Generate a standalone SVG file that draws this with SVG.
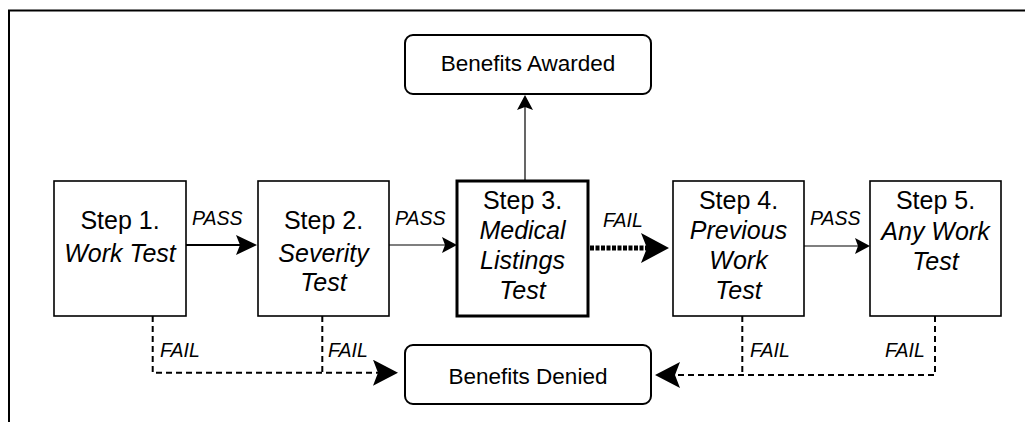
<svg xmlns="http://www.w3.org/2000/svg" width="1025" height="422" viewBox="0 0 1025 422">
<style>
  text { font-family: "Liberation Sans", Arial, Helvetica, sans-serif; fill: #000; }
  .step { font-size: 25px; text-anchor: middle; }
  .it { font-style: italic; }
  .lbl { font-size: 19.5px; font-style: italic; }
  .ben { font-size: 22.5px; text-anchor: middle; }
  .box { fill: #fff; stroke: #000; stroke-width: 1.6; }
  .box3 { fill: #fff; stroke: #000; stroke-width: 3; }
  .rbox { fill: #fff; stroke: #000; stroke-width: 2; }
  .thin { fill: none; stroke: #000; stroke-width: 1.2; }
  .med { fill: none; stroke: #000; stroke-width: 2.2; }
  .dots { fill: none; stroke: #000; stroke-width: 5; stroke-dasharray: 4 1.5; }
  .dash { fill: none; stroke: #000; stroke-width: 2; stroke-dasharray: 6 4; }
</style>
<defs>
  <marker id="mThin" markerUnits="userSpaceOnUse" viewBox="0 0 15 16" markerWidth="15" markerHeight="16" refX="3" refY="8" orient="auto">
    <path d="M0,0 L15,8 L0,16 L3,8 Z" fill="#000"/>
  </marker>
  <marker id="mMed" markerUnits="userSpaceOnUse" viewBox="0 0 21 20" markerWidth="21" markerHeight="20" refX="4" refY="10" orient="auto">
    <path d="M0,0 L21,10 L0,20 L4,10 Z" fill="#000"/>
  </marker>
  <marker id="mBig" markerUnits="userSpaceOnUse" viewBox="0 0 28 30" markerWidth="28" markerHeight="30" refX="6" refY="15" orient="auto">
    <path d="M0,0 L28,15 L0,30 L6,15 Z" fill="#000"/>
  </marker>
  <marker id="mDash" markerUnits="userSpaceOnUse" viewBox="0 0 25 26" markerWidth="25" markerHeight="26" refX="5" refY="13" orient="auto">
    <path d="M0,0 L25,13 L0,26 L5,13 Z" fill="#000"/>
  </marker>
</defs>

<rect id="frame" x="9" y="10.5" width="1030" height="430" fill="#fff" stroke="#000" stroke-width="2"/>

<g id="connectors">
  <line class="med" x1="186" y1="245" x2="240" y2="245" marker-end="url(#mMed)"/>
  <line class="thin" x1="389" y1="245" x2="445" y2="245" marker-end="url(#mThin)"/>
  <line class="dots" x1="590" y1="248" x2="647" y2="248" marker-end="url(#mBig)"/>
  <line class="thin" x1="804" y1="246" x2="858" y2="246" marker-end="url(#mThin)"/>
  <line class="thin" x1="525" y1="181" x2="525" y2="107" marker-end="url(#mThin)"/>
  <path class="dash" d="M152.7,316 V372.7 H378" marker-end="url(#mDash)"/>
  <path class="dash" d="M322.3,316 V372.7"/>
  <path class="dash" d="M935,316 V375 H675" marker-end="url(#mDash)"/>
  <path class="dash" d="M742.3,316 V375"/>
  <text class="lbl" x="192" y="225">PASS</text>
  <text class="lbl" x="395" y="225">PASS</text>
  <text class="lbl" x="603" y="227">FAIL</text>
  <text class="lbl" x="810" y="225">PASS</text>
  <text class="lbl" x="160" y="357">FAIL</text>
  <text class="lbl" x="328" y="357">FAIL</text>
  <text class="lbl" x="750" y="357">FAIL</text>
  <text class="lbl" x="885" y="357">FAIL</text>
</g>

<g id="awarded">
  <rect class="rbox" x="405" y="35" width="246" height="59" rx="8" ry="8"/>
  <text class="ben" x="528" y="71">Benefits Awarded</text>
</g>

<g id="denied">
  <rect class="rbox" x="405" y="345" width="246" height="59" rx="8" ry="8"/>
  <text class="ben" x="528" y="384">Benefits Denied</text>
</g>

<g id="step1">
  <rect class="box" x="54" y="181" width="132" height="135"/>
  <text class="step" x="120" y="229">Step 1.</text>
  <text class="step it" x="120" y="262">Work Test</text>
</g>

<g id="step2">
  <rect class="box" x="258" y="181" width="131" height="135"/>
  <text class="step" x="323.5" y="229">Step 2.</text>
  <text class="step it" x="323.5" y="262">Severity</text>
  <text class="step it" x="323.5" y="291">Test</text>
</g>

<g id="step3">
  <rect class="box3" x="457" y="181" width="131" height="135"/>
  <text class="step" x="522.5" y="209">Step 3.</text>
  <text class="step it" x="522.5" y="239">Medical</text>
  <text class="step it" x="522.5" y="269">Listings</text>
  <text class="step it" x="522.5" y="299">Test</text>
</g>

<g id="step4">
  <rect class="box" x="673" y="181" width="131" height="135"/>
  <text class="step" x="738.5" y="209">Step 4.</text>
  <text class="step it" x="738.5" y="239">Previous</text>
  <text class="step it" x="738.5" y="269">Work</text>
  <text class="step it" x="738.5" y="299">Test</text>
</g>

<g id="step5">
  <rect class="box" x="870" y="181" width="131" height="135"/>
  <text class="step" x="935.5" y="209">Step 5.</text>
  <text class="step it" x="935.5" y="240">Any Work</text>
  <text class="step it" x="935.5" y="270">Test</text>
</g>
</svg>
